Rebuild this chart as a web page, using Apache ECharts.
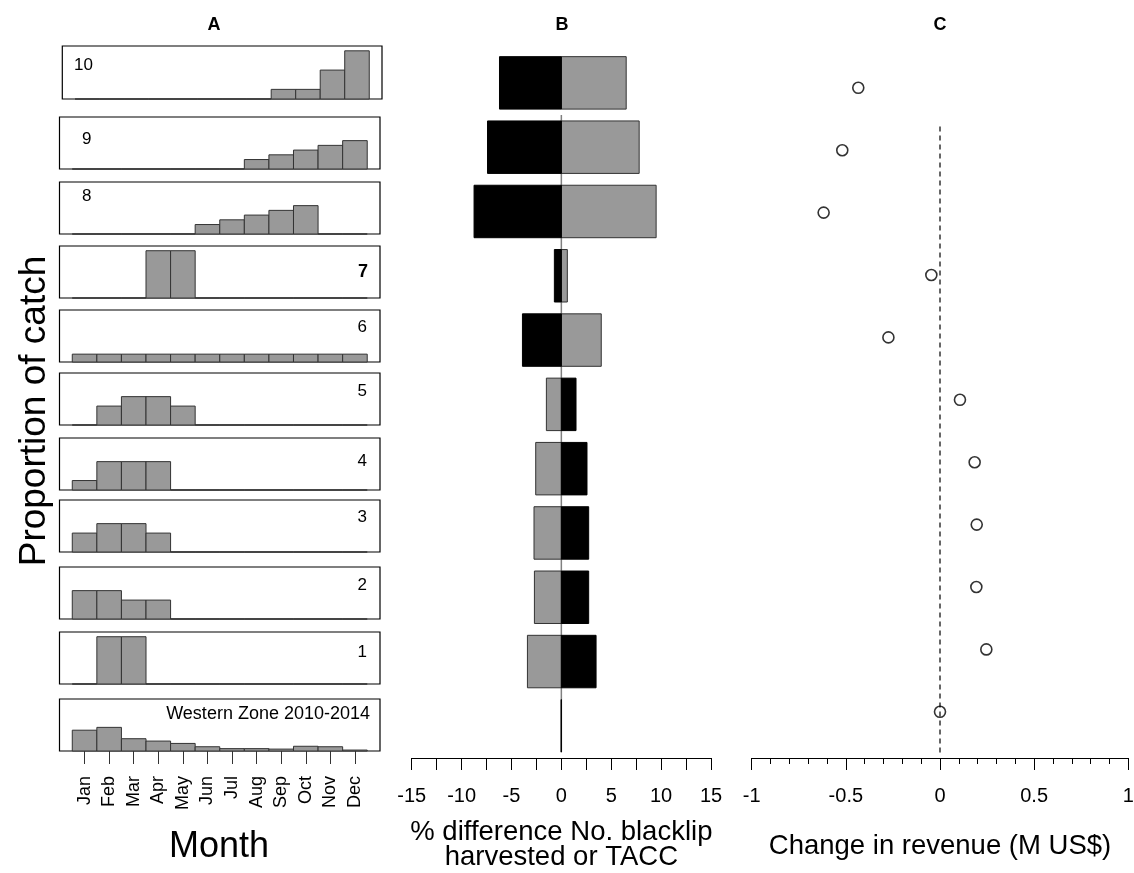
<!DOCTYPE html>
<html>
<head>
<meta charset="utf-8">
<script src="https://cdn.jsdelivr.net/npm/echarts@6/dist/echarts.min.js"></script>
<style>
  html, body { margin: 0; padding: 0; background: #fff; }
  #chart { width: 1134px; height: 873px; }
</style>
</head>
<body>
<div id="chart"></div>
<script>
// ---- data -------------------------------------------------------------
const months = ['Jan', 'Feb', 'Mar', 'Apr', 'May', 'Jun', 'Jul', 'Aug', 'Sep', 'Oct', 'Nov', 'Dec'];

// scenario names, bottom row first
const rowNames = ['Western Zone 2010-2014', '1', '2', '3', '4', '5', '6', '7', '8', '9', '10'];

// monthly proportion of catch for each scenario
const catchWZ = [0.22, 0.25, 0.13, 0.105, 0.08, 0.045, 0.025, 0.025, 0.02, 0.05, 0.045, 0.01];
const catch1  = [0, 0.5, 0.5, 0, 0, 0, 0, 0, 0, 0, 0, 0];
const catch2  = [0.3, 0.3, 0.2, 0.2, 0, 0, 0, 0, 0, 0, 0, 0];
const catch3  = [0.2, 0.3, 0.3, 0.2, 0, 0, 0, 0, 0, 0, 0, 0];
const catch4  = [0.1, 0.3, 0.3, 0.3, 0, 0, 0, 0, 0, 0, 0, 0];
const catch5  = [0, 0.2, 0.3, 0.3, 0.2, 0, 0, 0, 0, 0, 0, 0];
const catch6  = [0.083, 0.083, 0.083, 0.083, 0.083, 0.083, 0.083, 0.083, 0.083, 0.083, 0.083, 0.083];
const catch7  = [0, 0, 0, 0.5, 0.5, 0, 0, 0, 0, 0, 0, 0];
const catch8  = [0, 0, 0, 0, 0, 0.1, 0.15, 0.2, 0.25, 0.3, 0, 0];
const catch9  = [0, 0, 0, 0, 0, 0, 0, 0.1, 0.15, 0.2, 0.25, 0.3];
const catch10 = [0, 0, 0, 0, 0, 0, 0, 0, 0.1, 0.1, 0.3, 0.5];
const catchRows = [catchWZ, catch1, catch2, catch3, catch4, catch5, catch6, catch7, catch8, catch9, catch10];

// % difference in number of blacklip harvested (black) and in TACC (grey)
const harvestDiff = [0, 3.48, 2.74, 2.74, 2.57, 1.47, -3.9, -0.7, -8.75, -7.4, -6.2];
const taccDiff    = [0, -3.4, -2.7, -2.74, -2.57, -1.5, 4.0, 0.6, 9.5, 7.8, 6.5];

// change in revenue, million US$
const revenueChange = [0, 0.246, 0.193, 0.195, 0.184, 0.106, -0.274, -0.046, -0.618, -0.519, -0.434];

// ---- layout -----------------------------------------------------------
const FONT = "'Liberation Sans', Arial, Helvetica, sans-serif";
const GREY = '#999999';

// panel A row boxes (bottom row first)
const boxTop = [699, 632, 567, 500, 438, 373, 310, 246, 182, 117, 46];
const boxLeft = (i) => (i === 10 ? 62.3 : 59.5);
const boxWidth = (i) => (i === 10 ? 319.7 : 320.5);
const boxHeight = (i) => (i === 10 ? 53 : 52);
const X_MIN = -0.52, X_MAX = 12.52;

// scenario label placement inside each box: [x, dy from box top, align]
const labelPos = [
  [370, 15, 'right'], [367, 20, 'right'], [367, 18, 'right'], [367, 17, 'right'],
  [367, 23, 'right'], [367, 18, 'right'], [367, 17, 'right'], [368, 26, 'right'],
  [82, 14, 'left'], [82, 22, 'left'], [74, 19, 'left']
];

const grid = [], xAxis = [], yAxis = [], series = [], graphic = [];

catchRows.forEach((vals, i) => {
  grid.push({
    left: boxLeft(i), top: boxTop[i], width: boxWidth(i), height: boxHeight(i),
    outerBoundsMode: 'none',
    show: true, borderColor: '#000', borderWidth: 1.2, backgroundColor: 'transparent'
  });
  xAxis.push({ gridIndex: i, type: 'value', min: X_MIN, max: X_MAX, show: false });
  yAxis.push({ gridIndex: i, type: 'value', min: 0, max: 0.55, show: false });
  series.push({
    type: 'custom', xAxisIndex: i, yAxisIndex: i, clip: false,
    data: vals.map((v, j) => [j, v]),
    renderItem: (params, api) => {
      const j = api.value(0), v = api.value(1);
      const p0 = api.coord([j, v]);
      const p1 = api.coord([j + 1, 0]);
      return {
        type: 'rect',
        shape: { x: p0[0], y: p0[1], width: p1[0] - p0[0], height: p1[1] - p0[1] },
        style: { fill: GREY, stroke: '#333', lineWidth: 1 }
      };
    }
  });
  const lp = labelPos[i];
  graphic.push({
    type: 'text', x: lp[0], y: boxTop[i] + lp[1],
    style: {
      text: rowNames[i], fill: '#000', font: (i === 7 ? 'bold 18px ' : (i === 0 ? '18px ' : '17px ')) + FONT,
      align: lp[2], verticalAlign: 'middle'
    }
  });
});

// month axis under the bottom row, spanning the bars only
const unitWZ = boxWidth(0) / (X_MAX - X_MIN);
const monthGrid = grid.length;
grid.push({
  left: boxLeft(0) + (0 - X_MIN) * unitWZ, width: 12 * unitWZ,
  top: boxTop[0], height: boxHeight(0), show: false, outerBoundsMode: 'none'
});
xAxis.push({
  gridIndex: monthGrid, type: 'category', data: months, position: 'bottom',
  axisLine: { show: false },
  axisTick: { show: true, alignWithLabel: true, length: 13, lineStyle: { color: '#333', width: 1 } },
  axisLabel: { rotate: 90, fontSize: 18, margin: 25, color: '#000', fontFamily: FONT, interval: 0 },
  splitLine: { show: false }
});
yAxis.push({ gridIndex: monthGrid, type: 'value', min: 0, max: 1, show: false });

// panel B
const gB = grid.length;
grid.push({ left: 411.7, width: 299.3, top: 44.3, height: 713.7, show: false, outerBoundsMode: 'none' });
xAxis.push({
  gridIndex: gB, type: 'value', min: -15, max: 15, interval: 5,
  axisLine: { show: true, onZero: false, lineStyle: { color: '#000', width: 1 } },
  axisTick: { show: true, length: 12, lineStyle: { color: '#000', width: 1 } },
  minorTick: { show: true, splitNumber: 2, length: 12, lineStyle: { color: '#000', width: 1 } },
  splitLine: { show: false }, minorSplitLine: { show: false },
  axisLabel: { fontSize: 20, margin: 28, color: '#000', fontFamily: FONT },
  name: '% difference No. blacklip\nharvested or TACC',
  nameLocation: 'middle', nameGap: 62,
  nameTextStyle: { fontSize: 27.5, lineHeight: 25, color: '#000', fontFamily: FONT }
});
yAxis.push({ gridIndex: gB, type: 'value', min: -0.5, max: 10.6, show: false });

series.push({
  type: 'line', xAxisIndex: gB, yAxisIndex: gB, z: 1, silent: true,
  symbol: 'none', data: [[0, -0.41], [0, 9.5]],
  lineStyle: { color: '#808080', width: 1.5 }
});
series.push({
  type: 'custom', xAxisIndex: gB, yAxisIndex: gB, z: 2, clip: false,
  data: harvestDiff.map((h, k) => [k, h, taccDiff[k]]),
  renderItem: (params, api) => {
    const k = api.value(0);
    const half = 0.408;
    const bar = (v, fill, stroke) => {
      const a = api.coord([0, k + half]);
      const b = api.coord([v, k - half]);
      return {
        type: 'rect',
        shape: { x: Math.min(a[0], b[0]), y: a[1], width: Math.abs(b[0] - a[0]), height: b[1] - a[1] },
        style: { fill: fill, stroke: stroke, lineWidth: 1 }
      };
    };
    return {
      type: 'group',
      children: [bar(api.value(2), GREY, '#333'), bar(api.value(1), '#000', '#000')]
    };
  }
});

// panel C
const gC = grid.length;
grid.push({ left: 751.7, width: 376.6, top: 46, height: 712, show: false, outerBoundsMode: 'none' });
xAxis.push({
  gridIndex: gC, type: 'value', min: -1, max: 1, interval: 0.5,
  axisLine: { show: true, onZero: false, lineStyle: { color: '#000', width: 1 } },
  axisTick: { show: true, length: 12, lineStyle: { color: '#000', width: 1 } },
  minorTick: { show: true, splitNumber: 5, length: 6, lineStyle: { color: '#000', width: 1 } },
  splitLine: { show: false }, minorSplitLine: { show: false },
  axisLabel: { fontSize: 20, margin: 28, color: '#000', fontFamily: FONT },
  name: 'Change in revenue (M US$)',
  nameLocation: 'middle', nameGap: 74,
  nameTextStyle: { fontSize: 27.5, color: '#000', fontFamily: FONT }
});
yAxis.push({ gridIndex: gC, type: 'value', min: -0.74, max: 10.67, show: false });

series.push({
  type: 'line', xAxisIndex: gC, yAxisIndex: gC, z: 1, silent: true,
  symbol: 'none', data: [[0, -0.65], [0, 9.4]],
  lineStyle: { color: '#333', width: 1.5, type: [5, 4] }
});
series.push({
  type: 'scatter', xAxisIndex: gC, yAxisIndex: gC, z: 3,
  data: revenueChange.map((v, k) => [v, k]),
  symbol: 'circle', symbolSize: 11,
  itemStyle: { color: 'rgba(255,255,255,0)', borderColor: '#000', borderWidth: 1.6 }
});

// panel letters and outer titles
[['A', 214], ['B', 562], ['C', 940]].forEach(([t, x]) => {
  graphic.push({
    type: 'text', x: x, y: 25,
    style: { text: t, font: 'bold 18px ' + FONT, fill: '#000', align: 'center', verticalAlign: 'middle' }
  });
});
graphic.push({
  type: 'text', x: 35, y: 411, rotation: Math.PI / 2,
  style: { text: 'Proportion of catch', font: '37px ' + FONT, fill: '#000', align: 'center', verticalAlign: 'middle' }
});
graphic.push({
  type: 'text', x: 219, y: 847,
  style: { text: 'Month', font: '36px ' + FONT, fill: '#000', align: 'center', verticalAlign: 'middle' }
});

const chart = echarts.init(document.getElementById('chart'));
chart.setOption({
  animation: false,
  backgroundColor: '#fff',
  textStyle: { fontFamily: FONT },
  grid, xAxis, yAxis, series, graphic
});
</script>
</body>
</html>
